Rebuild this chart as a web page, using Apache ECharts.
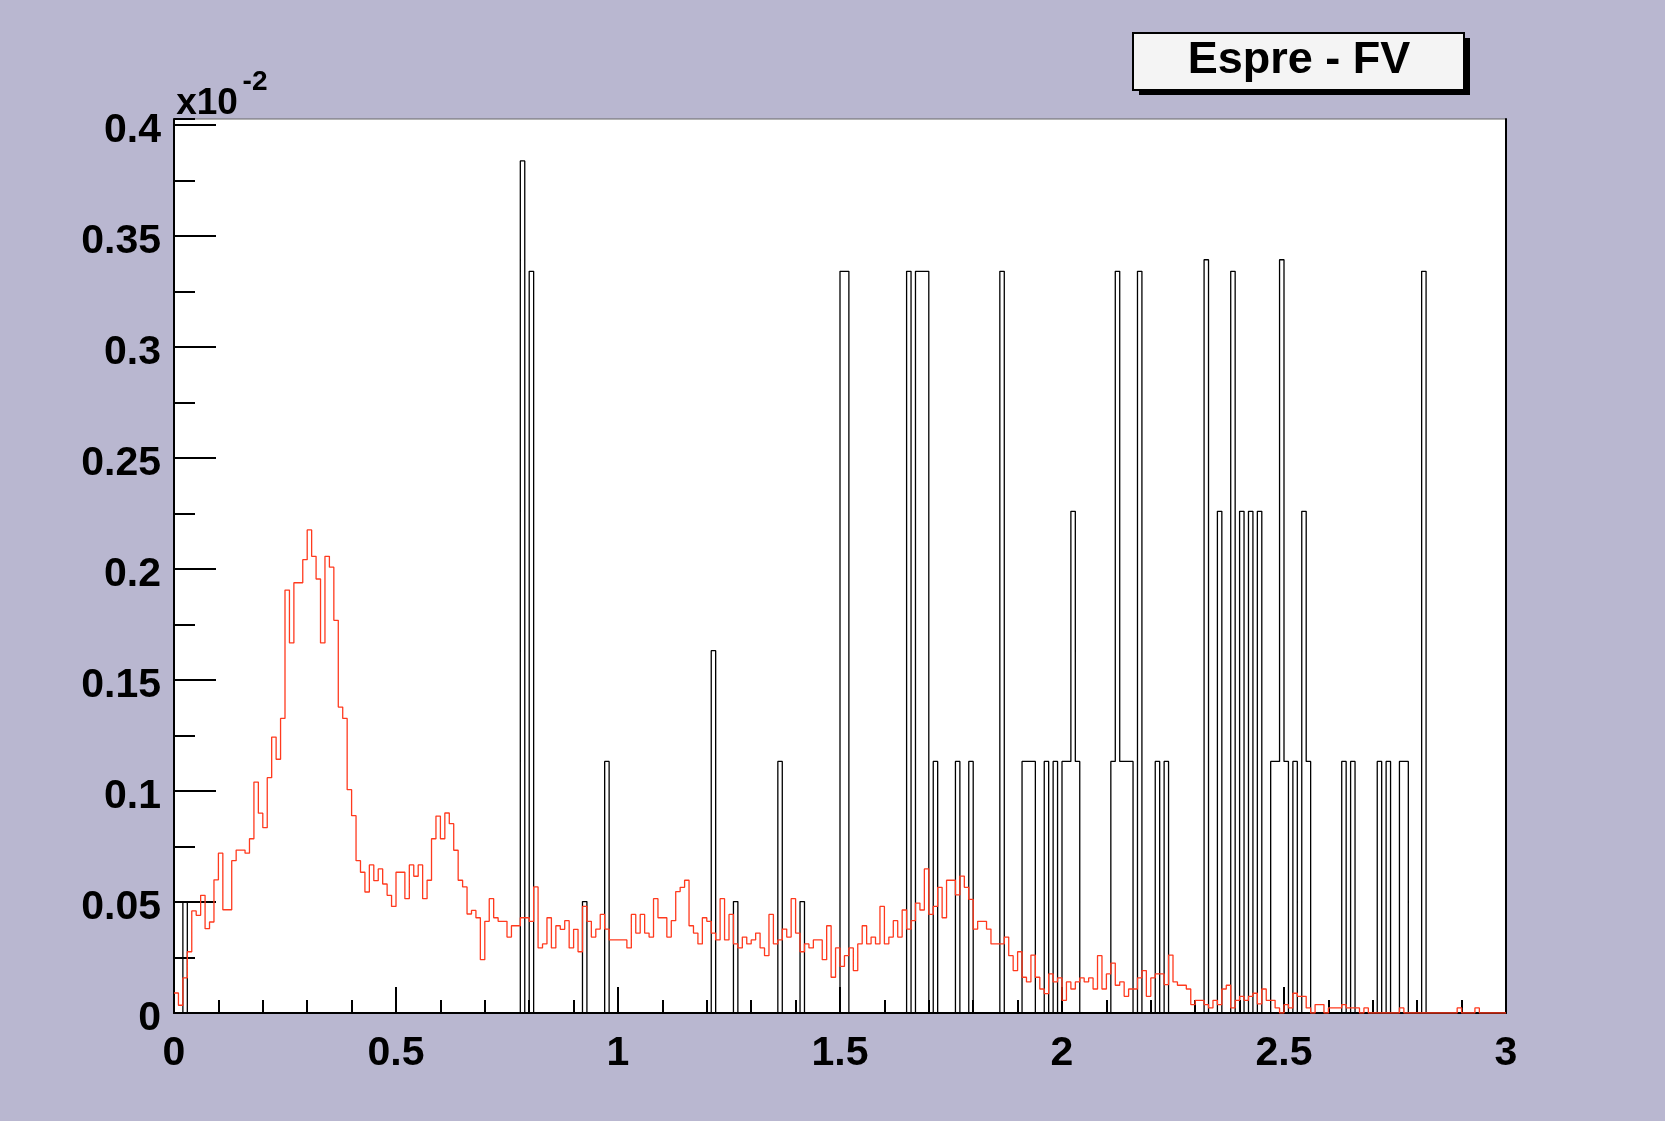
<!DOCTYPE html>
<html>
<head>
<meta charset="utf-8">
<title>Espre - FV</title>
<script src="https://cdn.jsdelivr.net/npm/echarts@6/dist/echarts.min.js"></script>
<style>
  html, body { margin: 0; padding: 0; background: #b9b7d0; }
  #chart { width: 1665px; height: 1121px; }
</style>
</head>
<body>
<div id="chart"></div>
<script>
// histogram setup: 300 bins of width 0.01 from 0 to 3 (values in units of 1e-2)
var binWidth = 0.01;
var nBins = 300;

// red histogram, one value per bin
var redValues = [
    0.009, 0.0035, 0.0158, 0.0276, 0.046, 0.044, 0.053, 0.038, 0.041, 0.060,
    0.072, 0.0465, 0.0465, 0.0686, 0.0734, 0.0734, 0.072, 0.0785, 0.104, 0.090,
    0.0835, 0.106, 0.1243, 0.1143, 0.1327, 0.1905, 0.1667, 0.1938, 0.1938, 0.2042,
    0.2176, 0.2057, 0.1955, 0.1667, 0.2057, 0.2008, 0.1769, 0.1378, 0.1327, 0.1006,
    0.0889, 0.0686, 0.0634, 0.0545, 0.0667, 0.0596, 0.0649, 0.0581, 0.053, 0.048,
    0.0634, 0.0634, 0.0515, 0.0667, 0.0616, 0.0667, 0.0515, 0.0598, 0.0785, 0.0887,
    0.0785, 0.0901, 0.0853, 0.0733, 0.0598, 0.0568, 0.0446, 0.0462, 0.0429, 0.024,
    0.0413, 0.0515, 0.0429, 0.0413, 0.0413, 0.0342, 0.0393, 0.0393, 0.0429, 0.0429,
    0.0413, 0.0568, 0.0293, 0.0311, 0.0429, 0.0293, 0.0393, 0.0377, 0.0416, 0.0293,
    0.0377, 0.0276, 0.048, 0.0413, 0.0342, 0.0378, 0.0444, 0.0378, 0.0329, 0.0329,
    0.0329, 0.0329, 0.0293, 0.0444, 0.036, 0.0444, 0.036, 0.0342, 0.0515, 0.0429,
    0.0429, 0.0342, 0.0416, 0.0547, 0.0566, 0.0598, 0.0393, 0.036, 0.0311, 0.0429,
    0.0413, 0.036, 0.0329, 0.0515, 0.0329, 0.0444, 0.0311, 0.0293, 0.0342, 0.0311,
    0.0329, 0.036, 0.0293, 0.0258, 0.0444, 0.0311, 0.0329, 0.0378, 0.0342, 0.0515,
    0.036, 0.0276, 0.0311, 0.0293, 0.0329, 0.0329, 0.024, 0.0393, 0.0161, 0.0293,
    0.021, 0.0258, 0.0293, 0.0191, 0.0311, 0.0393, 0.0311, 0.0342, 0.0311, 0.048,
    0.0311, 0.0342, 0.0416, 0.0342, 0.0464, 0.0378, 0.0416, 0.0495, 0.0464, 0.0649,
    0.0444, 0.048, 0.0566, 0.0429, 0.0598, 0.0598, 0.0532, 0.0617, 0.0566, 0.0512,
    0.0378, 0.0413, 0.0413, 0.0378, 0.0311, 0.0311, 0.0311, 0.0342, 0.0258, 0.0191,
    0.0276, 0.0161, 0.014, 0.0261, 0.0161, 0.0108, 0.0087, 0.0176, 0.014, 0.0158,
    0.0057, 0.014, 0.0108, 0.014, 0.0158, 0.014, 0.0158, 0.0108, 0.0258, 0.0108,
    0.0176, 0.0225, 0.0125, 0.014, 0.0075, 0.0108, 0.0108, 0.0158, 0.0191, 0.0075,
    0.0158, 0.0176, 0.0176, 0.0128, 0.0261, 0.014, 0.0125, 0.0125, 0.0108, 0.0038,
    0.0057, 0.0057, 0.0038, 0.0023, 0.0057, 0.0038, 0.0108, 0.0125, 0.0023, 0.0057,
    0.0075, 0.0057, 0.0075, 0.0089, 0.0041, 0.0108, 0.0057, 0.0057, 0.0023, 0,
    0.0038, 0.0023, 0.0089, 0.0075, 0.0075, 0.0023, 0, 0.0038, 0.0038, 0,
    0.0023, 0.0023, 0.0023, 0.0038, 0.0023, 0.0023, 0.0023, 0, 0.0023, 0,
    0, 0, 0, 0, 0, 0, 0.0023, 0, 0, 0,
    0, 0, 0, 0, 0, 0, 0, 0, 0, 0.0023,
    0, 0, 0, 0.0023, 0, 0, 0, 0, 0, 0
];

// black histogram is mostly empty: filled bin numbers and their contents
var blackBins = [
    2, 78, 80, 92, 97, 121, 126, 136, 141, 150, 151,
    165, 167, 168, 169, 171, 176, 179, 186, 191, 192, 193,
    196, 198, 200, 201, 202, 203, 211, 212, 213, 214, 215,
    217, 221, 223, 232, 235, 238, 240, 242, 244, 247, 248,
    249, 250, 252, 254, 255, 263, 265, 271, 273, 276, 277, 281
];
var blackValues = [
    0.05, 0.3838, 0.3341, 0.0502, 0.1133, 0.1632, 0.0502, 0.1133, 0.0502, 0.3341, 0.3341,
    0.3341, 0.3341, 0.3341, 0.3341, 0.1133, 0.1133, 0.1133, 0.3341, 0.1133, 0.1133, 0.1133,
    0.1133, 0.1133, 0.1133, 0.1133, 0.226, 0.1133, 0.1133, 0.3341, 0.1133, 0.1133, 0.1133,
    0.3341, 0.1133, 0.1133, 0.3393, 0.226, 0.3341, 0.226, 0.226, 0.226, 0.1133, 0.1133,
    0.3393, 0.1133, 0.1133, 0.226, 0.1133, 0.1133, 0.1133, 0.1133, 0.1133, 0.1133, 0.1133, 0.3341
];

// axis ranges
var xMin = 0, xMax = 3, xStep = 0.5;
var yMin = 0, yMax = 0.4027, yStep = 0.05;
var titleText = 'Espre - FV';

var fontFam = '"Liberation Sans", Arial, Helvetica, sans-serif';

// step points for a histogram outline: left edge of every bin + closing right edge
function histPoints(values) {
    var pts = [];
    for (var i = 0; i < values.length; i++) {
        pts.push([+(i * binWidth).toFixed(4), values[i]]);
    }
    pts.push([xMax, values[values.length - 1]]);
    return pts;
}

// expand the sparse black histogram to all bins
var blackFull = [];
for (var i = 0; i < nBins; i++) blackFull.push(0);
for (var j = 0; j < blackBins.length; j++) blackFull[blackBins[j]] = blackValues[j];

var chart = echarts.init(document.getElementById('chart'), null, {renderer: 'canvas'});

// plot frame position (pixels)
var gridLeft = 174, gridRight = 159, gridTop = 119, gridBottom = 108;

var option = {
    backgroundColor: '#b9b7d0',
    animation: false,
    grid: {
        left: gridLeft, right: gridRight, top: gridTop, bottom: gridBottom,
        show: true, backgroundColor: '#ffffff', borderColor: '#666', borderWidth: 1
    },
    xAxis: {
        type: 'value', min: xMin, max: xMax, interval: xStep,
        axisLine: {show: true, onZero: false, lineStyle: {color: '#000', width: 2}},
        axisTick: {show: true, inside: true, length: 26, lineStyle: {color: '#000', width: 2}},
        minorTick: {show: true, splitNumber: 5, length: 13, lineStyle: {color: '#000', width: 2}},
        splitLine: {show: false},
        axisLabel: {
            margin: 20, color: '#000', fontSize: 41, fontWeight: 'bold', fontFamily: fontFam,
            formatter: function (v) { return String(+v.toFixed(2)); }
        }
    },
    yAxis: [{
        type: 'value', min: yMin, max: yMax, interval: yStep,
        axisLine: {show: true, onZero: false, lineStyle: {color: '#000', width: 2}},
        axisTick: {show: true, inside: true, length: 42, lineStyle: {color: '#000', width: 2}},
        splitLine: {show: false},
        axisLabel: {
            margin: 13, showMaxLabel: false,
            formatter: function (v) { return '{n|' + (+v.toFixed(2)) + '}'; },
            rich: {
                // 标签稍微往下移
                n: {color: '#000', fontSize: 41, fontWeight: 'bold', fontFamily: fontFam, padding: [12, 0, 0, 0]}
            }
        }
    }, {
        // minor ticks on the left at half steps
        type: 'value', min: yMin, max: yMax, interval: yStep / 2, position: 'left',
        axisLine: {show: false},
        axisTick: {show: true, inside: true, length: 21, lineStyle: {color: '#000', width: 2}},
        splitLine: {show: false},
        axisLabel: {show: false}
    }, {
        // right frame edge
        type: 'value', min: yMin, max: yMax, position: 'right',
        axisLine: {show: true, onZero: false, lineStyle: {color: '#000', width: 2}},
        axisTick: {show: false}, splitLine: {show: false}, axisLabel: {show: false}
    }],
    series: [{
        name: 'black',
        type: 'line',
        step: 'end',
        showSymbol: false,
        data: histPoints(blackFull),
        lineStyle: {color: '#000', width: 1.3},
        z: 2
    }, {
        name: 'red',
        type: 'line',
        step: 'end',
        showSymbol: false,
        data: histPoints(redValues),
        lineStyle: {color: '#ff3a1e', width: 1.3},
        z: 3
    }],
    graphic: [
        //标题框阴影 + 标题框
        {type: 'rect', shape: {x: 1139, y: 38, width: 331, height: 57}, style: {fill: '#000'}, z: 10},
        {type: 'rect', shape: {x: 1133, y: 33, width: 331, height: 57},
            style: {fill: '#f4f4f4', stroke: '#000', lineWidth: 2}, z: 11},
        {type: 'text', x: 1299, y: 61, z: 12,
            style: {text: titleText, fill: '#000', font: 'bold 45px ' + fontFam, align: 'center', verticalAlign: 'middle'}},
        // axis multiplier
        {type: 'text', x: 207, y: 104, z: 12,
            style: {text: 'x10', fill: '#000', font: 'bold 37px ' + fontFam, align: 'center', verticalAlign: 'middle'}},
        {type: 'text', x: 255, y: 82, z: 12,
            style: {text: '-2', fill: '#000', font: 'bold 28px ' + fontFam, align: 'center', verticalAlign: 'middle'}}
    ]
};

chart.setOption(option);
</script>
</body>
</html>
